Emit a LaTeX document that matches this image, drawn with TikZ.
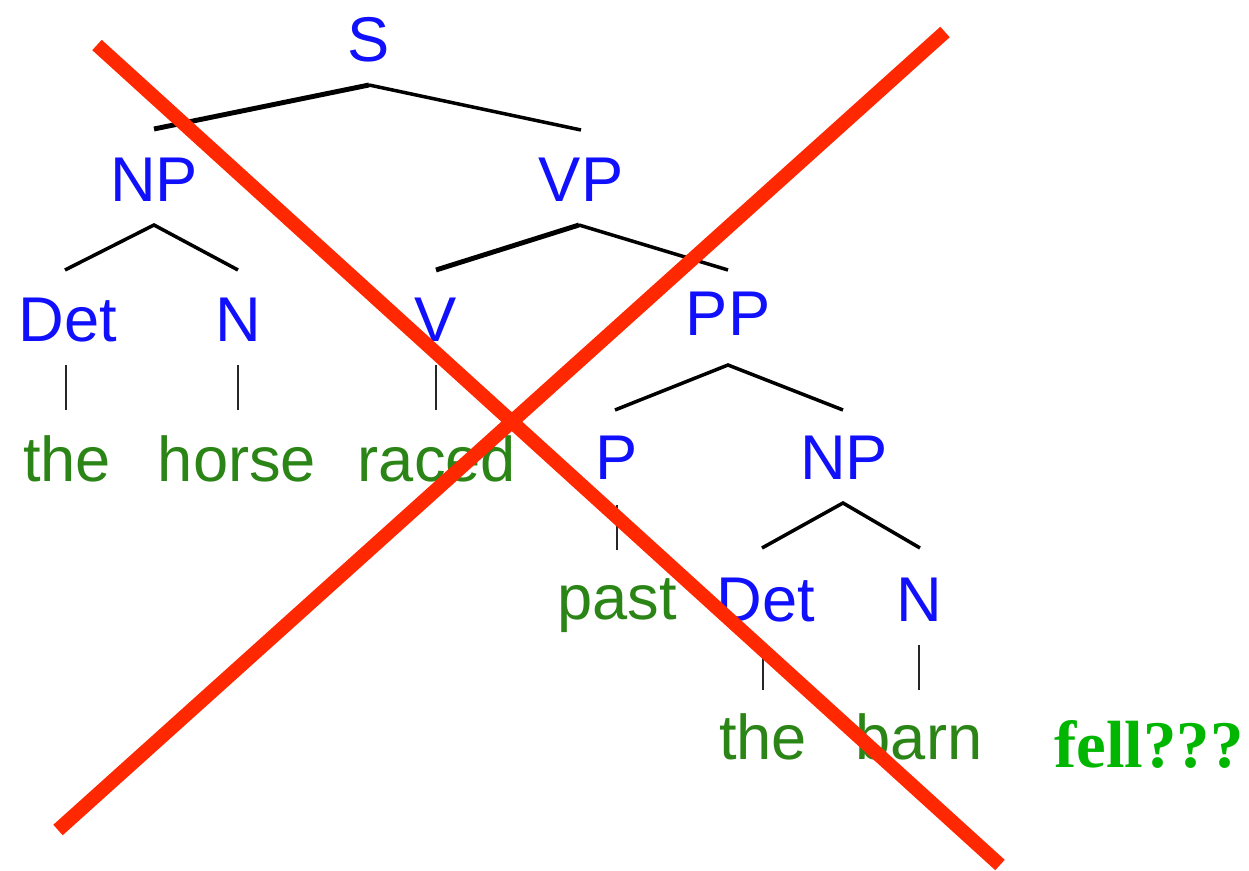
\documentclass[tikz,border=0pt]{standalone}
\usepackage{fontspec}
\setmainfont{Liberation Sans}
\newfontfamily\fellfont{Liberation Serif}
\usetikzlibrary{calc}
\definecolor{catblue}{RGB}{16,16,252}
\definecolor{wordgreen}{RGB}{42,132,22}
\definecolor{fellgreen}{RGB}{0,182,0}
\definecolor{crossred}{RGB}{255,40,0}
\begin{document}
\begin{tikzpicture}[x=0.02cm,y=-0.02cm,
  cat/.style={anchor=base,inner sep=0pt,text=catblue,font=\fontsize{36}{36}\selectfont},
  word/.style={anchor=base,inner sep=0pt,text=wordgreen,font=\fontsize{36}{36}\selectfont},
  branch/.style={line width=2pt,black},
  heavybranch/.style={line width=2.8pt,black},
  leafline/.style={line width=1.3pt,black!85},
  cross/.style={line width=8pt,crossred}]
\useasboundingbox (0,0) rectangle (1249,871);

% categories
\node[cat] (S)    at (369,62)  {S};
\node[cat] (NP)   at (154,202) {NP};
\node[cat] (VP)   at (581,202) {VP};
\node[cat] (Det)  at (68,342)  {Det};
\node[cat] (N)    at (238,342) {N};
\node[cat] (V)    at (436,342) {V};
\node[cat] (PP)   at (728,336) {PP};
\node[cat] (P)    at (617,480) {P};
\node[cat] (NPb)  at (844,480) {NP};
\node[cat] (Detb) at (766,622) {Det};
\node[cat] (Nb)   at (919,622) {N};

% words
\node[word] (the)   at (67,482)  {the};
\node[word] (horse) at (237,482) {horse};
\node[word] (raced) at (437,482) {raced};
\node[word] (past)  at (617,620) {past};
\node[word] (theb)  at (763,760) {the};
\node[word] (barn)  at (919,760) {barn};
\node[anchor=base west,inner sep=0pt,text=fellgreen,
      font=\fellfont\bfseries\fontsize{38}{38}\selectfont] (fell) at (1054,768) {fell???};

% branches
\draw[heavybranch] ($(NP.base)+(0,-73)$) -- ($(S.base)+(0,23)$);
\draw[branch] ($(S.base)+(0,23)$) -- ($(VP.base)+(0,-72)$);
\draw[branch] ($(Det.base)+(-3,-72)$) -- ($(NP.base)+(0,23)$) -- ($(N.base)+(0,-72)$);
\draw[heavybranch] ($(V.base)+(0,-72)$) -- ($(VP.base)+(-2,23)$);
\draw[branch] ($(VP.base)+(-2,23)$) -- ($(PP.base)+(0,-66)$);
\draw[branch] ($(P.base)+(-2,-70)$) -- ($(PP.base)+(0,29)$) -- ($(NPb.base)+(-1,-70)$);
\draw[branch] ($(Detb.base)+(-4,-74)$) -- ($(NPb.base)+(-1,23)$) -- ($(Nb.base)+(1,-74)$);

% leaf lines
\draw[leafline] ($(Det.base)+(-2,23)$) -- ($(the.base)+(-1,-72)$);
\draw[leafline] ($(N.base)+(0,23)$) -- ($(horse.base)+(1,-72)$);
\draw[leafline] ($(V.base)+(0,23)$) -- ($(raced.base)+(-1,-72)$);
\draw[leafline] ($(P.base)+(0,25)$) -- ($(past.base)+(0,-70)$);
\draw[leafline] ($(Detb.base)+(-3,23)$) -- ($(theb.base)+(0,-70)$);
\draw[leafline] ($(Nb.base)+(0,23)$) -- ($(barn.base)+(0,-70)$);

% the cross over the tree
\coordinate (xa1) at (97,45);
\coordinate (xa2) at (1000,865);
\coordinate (xb1) at (945,32);
\coordinate (xb2) at (58,830);
\draw[cross] (xa1) -- (xa2);
\draw[cross] (xb1) -- (xb2);
\end{tikzpicture}
\end{document}
